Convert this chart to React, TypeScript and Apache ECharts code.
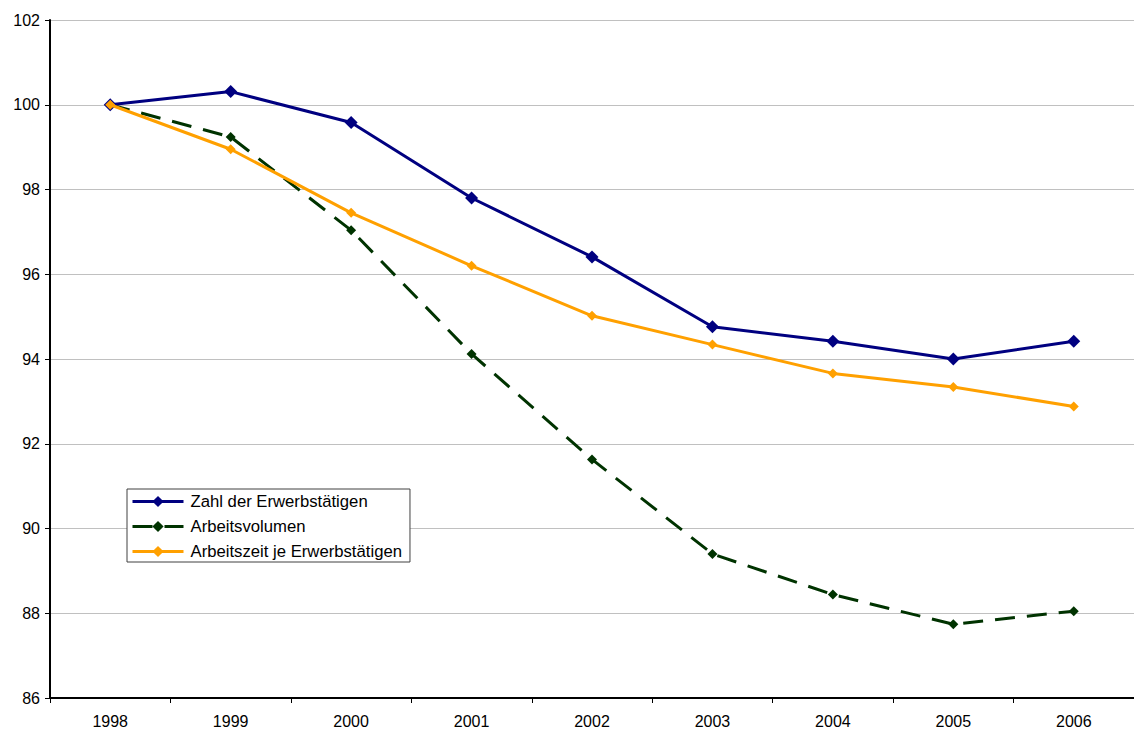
import React, { useEffect, useRef } from "react";
import * as echarts from "echarts";

const years = ["1998", "1999", "2000", "2001", "2002", "2003", "2004", "2005", "2006"];
const erwerbstaetige = [100, 100.31, 99.58, 97.8, 96.41, 94.76, 94.42, 94.0, 94.42];
const arbeitsvolumen = [100, 99.24, 97.04, 94.12, 91.63, 89.4, 88.44, 87.74, 88.05];
const arbeitszeit = [100, 98.95, 97.45, 96.2, 95.02, 94.34, 93.66, 93.34, 92.88];
const seriesNames = ["Zahl der Erwerbstätigen", "Arbeitsvolumen", "Arbeitszeit je Erwerbstätigen"];

export default function App() {
  const ref = useRef<HTMLDivElement>(null);
  useEffect(() => {
    const chart = echarts.init(ref.current!, null, { renderer: "svg" });
    const font = "'Liberation Sans', Arial, sans-serif";
    chart.setOption({
      animation: false,
      backgroundColor: "#ffffff",
      textStyle: { fontFamily: font },
      grid: { left: 50, top: 20, width: 1095, height: 678, containLabel: false },
      xAxis: {
        type: "category",
        data: years,
        boundaryGap: true,
        axisLine: { lineStyle: { color: "#000", width: 2 } },
        axisTick: { show: true, length: 5, alignWithLabel: false, lineStyle: { color: "#000" } },
        axisLabel: { color: "#000", fontSize: 16, fontFamily: font, margin: 15 },
        splitLine: { show: false },
      },
      yAxis: {
        type: "value",
        min: 86,
        max: 102,
        interval: 2,
        axisLine: { show: true, lineStyle: { color: "#000", width: 2 } },
        axisTick: { show: true, length: 5, lineStyle: { color: "#000" } },
        axisLabel: { color: "#000", fontSize: 16, fontFamily: font, margin: 10 },
        splitLine: { show: true, lineStyle: { color: "#c0c0c0", width: 1 } },
      },
      legend: {
        orient: "vertical",
        left: 127,
        top: 489,
        padding: [3, 8, 1, 4],
        itemWidth: 51,
        itemHeight: 14,
        itemGap: 6,
        backgroundColor: "#ffffff",
        borderColor: "#404040",
        borderWidth: 1,
        lineStyle: { width: 3 },
        textStyle: {
          color: "#000",
          fontSize: 16.7,
          lineHeight: 19,
          fontFamily: font,
          padding: [0, 0, 0, 2],
        },
        data: seriesNames,
      },
      series: [
        {
          name: seriesNames[0],
          type: "line",
          data: erwerbstaetige,
          symbol: "diamond",
          symbolSize: 13,
          color: "#000080",
          lineStyle: { color: "#000080", width: 3 },
          itemStyle: { color: "#000080" },
          z: 3,
        },
        {
          name: seriesNames[1],
          type: "line",
          data: arbeitsvolumen,
          symbol: "diamond",
          symbolSize: 10,
          color: "#003300",
          lineStyle: { color: "#003300", width: 3, type: [20, 12] },
          itemStyle: { color: "#003300" },
          z: 2,
        },
        {
          name: seriesNames[2],
          type: "line",
          data: arbeitszeit,
          symbol: "diamond",
          symbolSize: 10,
          color: "#ffa000",
          lineStyle: { color: "#ffa000", width: 3 },
          itemStyle: { color: "#ffa000" },
          z: 4,
        },
      ],
    });
    return () => chart.dispose();
  }, []);
  return (
    <div
      ref={ref}
      style={{ position: "absolute", left: 0, top: 0, width: 1134, height: 733 }}
    />
  );
}
